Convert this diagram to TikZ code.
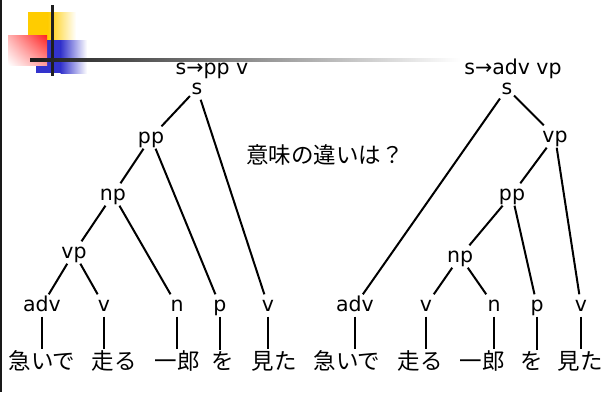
\documentclass[tikz,border=0pt]{standalone}
\usepackage{fontspec}
\usetikzlibrary{shadings}
\setmainfont{DejaVu Sans}
\newfontfamily\jp{Noto Sans CJK JP}
\definecolor{yelC}{HTML}{FFCC00}
\definecolor{bluC}{HTML}{3333CC}
\definecolor{redC}{HTML}{FF2020}
\tikzset{
  cat/.style={font=\fontsize{20.5}{24}\selectfont, inner sep=1.5pt, text height=15pt, text depth=4pt, anchor=base},
  word/.style={font=\jp\fontsize{22.5}{26}\selectfont, inner sep=1.5pt},
  edge/.style={line width=2pt, black}
}
\begin{document}
\begin{tikzpicture}[x=1pt,y=-1pt]
\useasboundingbox (0,0) rectangle (607,392);
% decoration
\fill[black!90] (0,0) rectangle (2,392);
\fill[yelC] (28,12) rectangle (48,41);
\shade[left color=yelC, right color=white] (47.5,12) rectangle (76,41);
\fill[bluC] (36,40) rectangle (61,73);
\shade[left color=bluC, right color=white] (60.5,40) rectangle (87,73);
\shade[upper left=redC!35!white, upper right=redC, lower left=white, lower right=redC!45!white] (8,35) rectangle (47,65);
\fill[black!88] (51,5) rectangle (54,76);
\shade[left color=black!90, right color=white] (30,58) rectangle (460,61);
% left tree
\node[cat] (Lrule) at (212,74) {s→pp v};
\node[cat] (Ls) at (197,94) {s};
\node[cat] (Lpp) at (151,143) {pp};
\node[cat] (Lnp) at (113,200) {np};
\node[cat] (Lvp) at (74,258) {vp};
\node[cat] (Ladv) at (42,311) {adv};
\node[cat] (Lv1) at (104,311) {v};
\node[cat] (Ln) at (177,311) {n};
\node[cat] (Lp) at (220,311) {p};
\node[cat] (Lv2) at (268,311) {v};
\node[word] (Lw1) at (42,361) {急いで};
\node[word] (Lw2) at (114,361) {走る};
\node[word] (Lw3) at (177,361) {一郎};
\node[word] (Lw4) at (223,361) {を};
\node[word] (Lw5) at (274,361) {見た};
\draw[edge] (Ls) -- (Lpp);
\draw[edge] (Ls) -- (Lv2);
\draw[edge] (Lpp) -- (Lnp);
\draw[edge] (Lpp) -- (Lp);
\draw[edge] (Lnp) -- (Lvp);
\draw[edge] (Lnp) -- (Ln);
\draw[edge] (Lvp) -- (Ladv);
\draw[edge] (Lvp) -- (Lv1);
\foreach \c/\w in {Ladv/Lw1, Lv1/Lw2, Ln/Lw3, Lp/Lw4, Lv2/Lw5}
  \draw[edge] (\c.south) -- (\c.south |- \w.north);
% question
\node[word] (q) at (325,155) {意味の違いは？};
% right tree
\node[cat] (Rrule) at (513,74) {s→adv vp};
\node[cat] (Rs) at (507,94) {s};
\node[cat] (Rvp) at (555,142) {vp};
\node[cat] (Rpp) at (512,200) {pp};
\node[cat] (Rnp) at (460,262) {np};
\node[cat] (Radv) at (355,311) {adv};
\node[cat] (Rv1) at (426,311) {v};
\node[cat] (Rn) at (494,311) {n};
\node[cat] (Rp) at (537,311) {p};
\node[cat] (Rv2) at (581,311) {v};
\node[word] (Rw1) at (347,361) {急いで};
\node[word] (Rw2) at (420,361) {走る};
\node[word] (Rw3) at (482,361) {一郎};
\node[word] (Rw4) at (532,361) {を};
\node[word] (Rw5) at (580,361) {見た};
\draw[edge] (Rs) -- (Radv);
\draw[edge] (Rs) -- (Rvp);
\draw[edge] (Rvp) -- (Rpp);
\draw[edge] (Rvp) -- (Rv2);
\draw[edge] (Rpp) -- (Rnp);
\draw[edge] (Rpp) -- (Rp);
\draw[edge] (Rnp) -- (Rv1);
\draw[edge] (Rnp) -- (Rn);
\foreach \c/\w in {Radv/Rw1, Rv1/Rw2, Rn/Rw3, Rp/Rw4, Rv2/Rw5}
  \draw[edge] (\c.south) -- (\c.south |- \w.north);
\end{tikzpicture}
\end{document}
